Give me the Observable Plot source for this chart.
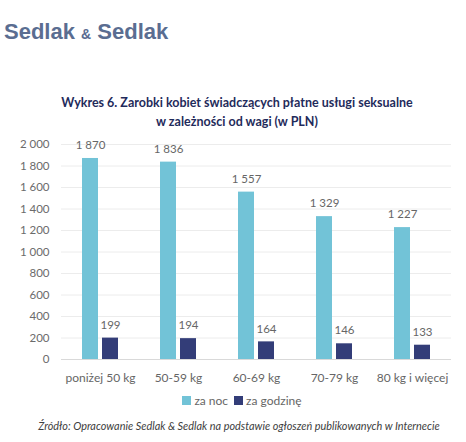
<!DOCTYPE html>
<html>
<head>
<meta charset="utf-8">
<script src="https://cdn.jsdelivr.net/npm/d3@7"></script>
<script src="https://cdn.jsdelivr.net/npm/@observablehq/plot@0.6"></script>
<style>
  body { margin: 0; background: #fff; width: 466px; font-family: Lato, "Open Sans", sans-serif; }
  #logo { position: absolute; left: 4px; top: 19px; font-family: "Liberation Sans", Arial, sans-serif; font-weight: bold; font-size: 22px; color: #5a6d91; }
  #logo .amp { font-size: 14px; }
  #title { position: absolute; left: 0; width: 474px; top: 93px; text-align: center; font-weight: bold; font-size: 12.5px; line-height: 19px; color: #1f2b5b; }
  #chart { position: absolute; left: 0; top: 130px; }
  #legend { position: absolute; left: 9px; width: 466px; top: 393px; text-align: center; font-size: 12px; color: #666; }
  #legend span.sw { display: inline-block; width: 9px; height: 9px; margin-right: 3px; }
  #legend .item { margin: 0 3px; }
  #caption { position: absolute; left: 0; width: 478px; top: 419px; text-align: center; font-style: italic; font-size: 10.9px; color: #404040; }
</style>
</head>
<body>
<div id="logo">Sedlak <span class="amp">&amp;</span> Sedlak</div>
<div id="title">Wykres 6. Zarobki kobiet świadczących płatne usługi seksualne<br>w zależności od wagi (w PLN)</div>
<div id="chart"></div>
<div id="legend"></div>
<div id="caption">Źródło: Opracowanie Sedlak &amp; Sedlak na podstawie ogłoszeń publikowanych w Internecie</div>
<script>
const categories = ["poniżej 50 kg", "50-59 kg", "60-69 kg", "70-79 kg", "80 kg i więcej"];
const seriesNames = ["za noc", "za godzinę"];
const zaNoc = [1870, 1836, 1557, 1329, 1227];
const zaGodzine = [199, 194, 164, 146, 133];
const yTicks = [0, 200, 400, 600, 800, 1000, 1200, 1400, 1600, 1800, 2000];
const colors = ["#72c3d7", "#333d78"];

const locale = d3.formatLocale({decimal: ",", thousands: "\u2009", grouping: [3], currency: ["", " zł"]});
const fmt = v => locale.format(",")(v).replace("\u2009", " ");

const data = [];
categories.forEach((c, i) => {
  data.push({cat: c, series: seriesNames[0], value: zaNoc[i]});
  data.push({cat: c, series: seriesNames[1], value: zaGodzine[i]});
});

const chart = Plot.plot({
  width: 466,
  height: 260,
  marginTop: 14,
  marginBottom: 31,
  marginLeft: 60,
  marginRight: 14,
  style: {fontFamily: "Lato, 'Open Sans', sans-serif", fontSize: "12px", color: "#666", background: "#fff"},
  fx: {domain: categories, padding: 0, label: null, axis: "bottom", tickSize: 0, tickPadding: 14},
  x: {domain: seriesNames, paddingInner: 0.19, paddingOuter: 0.96, axis: null},
  y: {domain: [0, 2000], ticks: yTicks, tickFormat: fmt, tickSize: 0, tickPadding: 12, label: null},
  color: {domain: seriesNames, range: colors},
  marks: [
    Plot.ruleY(yTicks.filter(d => d > 0), {stroke: "#ececec", strokeWidth: 1}),
    Plot.ruleY([0], {stroke: "#d9d9d9", strokeWidth: 1}),
    Plot.barY(data, {fx: "cat", x: "series", y: "value", fill: "series"}),
    Plot.text(data, {fx: "cat", x: "series", y: "value", text: d => fmt(d.value), dy: -13, fill: "#666", fontSize: 11.5}),
    Plot.axisY({ticks: yTicks, tickFormat: fmt, tickSize: 0, tickPadding: 12, fontSize: 11.5, fill: "#6b6b6b", label: null})
  ]
});
document.getElementById("chart").appendChild(chart);

const legend = document.getElementById("legend");
seriesNames.forEach((s, i) => {
  const item = document.createElement("span");
  item.className = "item";
  const sw = document.createElement("span");
  sw.className = "sw";
  sw.style.background = colors[i];
  item.appendChild(sw);
  item.appendChild(document.createTextNode(s));
  legend.appendChild(item);
});
</script>
</body>
</html>
